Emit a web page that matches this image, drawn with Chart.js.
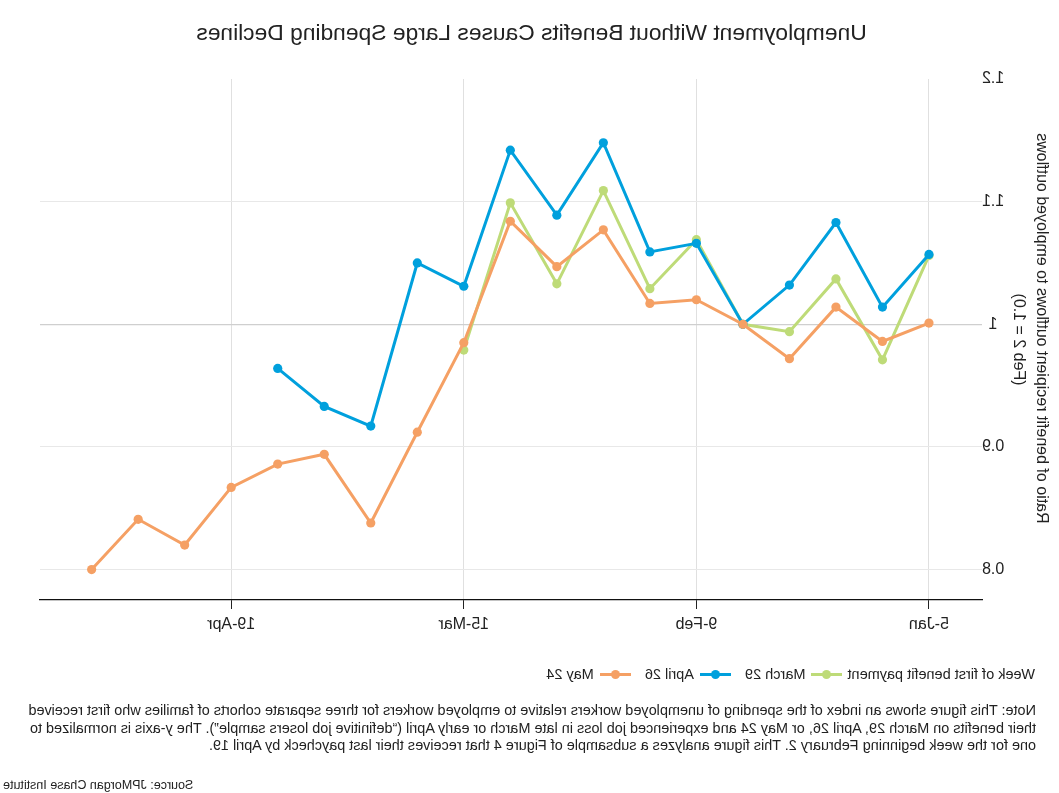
<!DOCTYPE html>
<html>
<head>
<meta charset="utf-8">
<script src="https://cdn.jsdelivr.net/npm/chart.js@4/dist/chart.umd.min.js"></script>
<style>
  html, body { margin: 0; padding: 0; background: #fff; overflow: hidden; }
  #wrap { position: relative; width: 1059px; height: 793px; transform: scaleX(-1); transform-origin: 50% 50%; font-family: "Liberation Sans", Arial, sans-serif; color: #222; }
  #chart { position: absolute; left: 0; top: 0; }
  #title { position: absolute; left: 0; width: 1055px; top: 19px; font-size: 22.8px; line-height: 27px; text-align: center; white-space: nowrap; }
  #legend { position: absolute; left: 24px; top: 666px; font-size: 14.5px; display: flex; align-items: center; white-space: nowrap; }
  #legend .item { display: flex; align-items: center; margin-left: 5px; margin-right: 9px; }
  #legend .mk { position: relative; width: 31px; height: 12px; margin-right: 6px; }
  #legend .mk .ln { position: absolute; left: 0; right: 0; top: 4.5px; height: 3px; }
  #legend .mk .dt { position: absolute; left: 11px; top: 1.5px; width: 9px; height: 9px; border-radius: 50%; }
  #note { position: absolute; left: 23px; top: 702px; font-size: 14.45px; line-height: 17.6px; white-space: nowrap; }
  #source { position: absolute; right: 3px; top: 778px; font-size: 12.5px; white-space: nowrap; }
</style>
</head>
<body>
<div id="wrap">
  <canvas id="chart" width="1059" height="650"></canvas>
  <div id="title"></div>
  <div id="legend"></div>
  <div id="note">Note: This figure shows an index of the spending of unemployed workers relative to employed workers for three separate cohorts of families who first received<br>their benefits on March 29, April 26, or May 24 and experienced job loss in late March or early April (“definitive job losers sample”). The y-axis is normalized to<br>one for the week beginning February 2. This figure analyzes a subsample of Figure 4 that receives their last paycheck by April 19.</div>
  <div id="source">Source: JPMorgan Chase Institute</div>
</div>
<script>
// ---- data ----
const weeks = ['5-Jan','12-Jan','19-Jan','26-Jan','2-Feb','9-Feb','16-Feb','23-Feb','1-Mar','8-Mar','15-Mar','22-Mar','29-Mar','5-Apr','12-Apr','19-Apr','26-Apr','3-May','10-May'];
const tickWeeks = ['5-Jan','9-Feb','15-Mar','19-Apr'];
const yTicks = [0.8, 0.9, 1.0, 1.1, 1.2];
const seriesNames = ['March 29','April 26','May 24'];
const march29 = [1.056, 0.971, 1.037, 0.994, 1.000, 1.069, 1.029, 1.109, 1.033, 1.099, 0.979];
const april26 = [1.057, 1.014, 1.083, 1.032, 1.000, 1.066, 1.059, 1.148, 1.089, 1.142, 1.031, 1.050, 0.917, 0.933, 0.964];
const may24   = [1.001, 0.986, 1.014, 0.972, 1.000, 1.020, 1.017, 1.077, 1.047, 1.084, 0.985, 0.912, 0.838, 0.894, 0.886, 0.867, 0.820, 0.841, 0.800];
const legendTitle = 'Week of first benefit payment';
const chartTitle = 'Unemployment Without Benefits Causes Large Spending Declines';
const yTitle = ['\u00A0\u00A0\u00A0\u00A0\u00A0Ratio of benefit recipient outflows to employed outflows', '(Feb 2 = 1.0)'];

// ---- styles ----
const colors = ['#bedb78', '#00a0dd', '#f5a064'];
const FONT = '"Liberation Sans", Arial, sans-serif';

document.getElementById('title').textContent = chartTitle;

const toPts = arr => arr.map((v, i) => ({ x: i, y: v }));
const allSeries = [march29, april26, may24];

const datasets = allSeries.map((s, k) => ({
  label: seriesNames[k],
  data: toPts(s),
  borderColor: colors[k],
  backgroundColor: colors[k],
  pointBackgroundColor: colors[k],
  pointBorderWidth: 0,
  borderWidth: 3,
  pointRadius: 4.6,
  pointHoverRadius: 4.6,
  tension: 0,
  order: 3 - k
}));

// legend (HTML)
const lg = document.getElementById('legend');
const t = document.createElement('span'); t.textContent = legendTitle; lg.appendChild(t);
seriesNames.forEach((n, k) => {
  const it = document.createElement('span'); it.className = 'item';
  it.innerHTML = '<span class="mk"><span class="ln" style="background:' + colors[k] + '"></span><span class="dt" style="background:' + colors[k] + '"></span></span><span>' + n + '</span>';
  lg.appendChild(it);
});

new Chart(document.getElementById('chart'), {
  type: 'line',
  data: { datasets },
  options: {
    responsive: false,
    animation: false,
    devicePixelRatio: 1,
    layout: { padding: { left: 0, right: 40, top: 79, bottom: 0 } },
    plugins: {
      legend: { display: false },
      tooltip: { enabled: false },
      title: { display: false }
    },
    scales: {
      x: {
        type: 'linear',
        min: -1.14,
        max: 19.11,
        afterBuildTicks: sc => { sc.ticks = tickWeeks.map(l => ({ value: weeks.indexOf(l) })); },
        afterFit: sc => { sc.height = 50; },
        ticks: {
          autoSkip: false,
          maxRotation: 0,
          padding: 6,
          color: '#222',
          font: { family: FONT, size: 16 },
          callback: v => weeks[v]
        },
        grid: { color: '#e0e0e0', lineWidth: 1, drawTicks: true, tickLength: 9, tickColor: '#222', tickWidth: 1 },
        border: { display: true, color: '#111', width: 1.2 }
      },
      y: {
        type: 'linear',
        min: 0.7752,
        max: 1.2,
        afterBuildTicks: sc => { sc.ticks = yTicks.map(v => ({ value: v })); },
        afterFit: sc => { sc.width = 77; },
        ticks: {
          padding: 0,
          crossAlign: 'center',
          color: '#222',
          font: { family: FONT, size: 16 },
          callback: v => String(Math.round(v * 10) / 10)
        },
        grid: {
          drawTicks: false,
          color: ctx => {
            const v = ctx.tick ? Math.round(ctx.tick.value * 10) / 10 : null;
            if (v === 1.2) return 'rgba(0,0,0,0)';
            if (v === 1) return '#cfcfcf';
            return '#e8e8e8';
          },
          lineWidth: ctx => (ctx.tick && Math.round(ctx.tick.value * 10) / 10 === 1 ? 1.3 : 1)
        },
        border: { display: false },
        title: {
          display: true,
          text: yTitle,
          color: '#222',
          font: { family: FONT, size: 16, lineHeight: 1.45 },
          padding: { top: 6, bottom: 0 }
        }
      }
    }
  }
});
</script>
</body>
</html>
